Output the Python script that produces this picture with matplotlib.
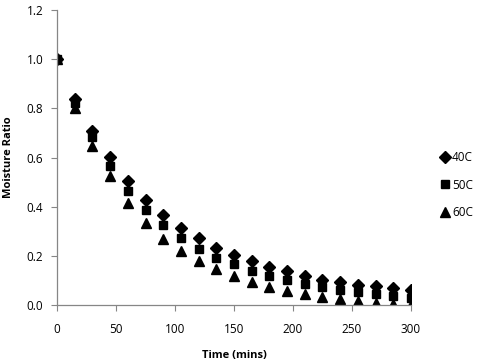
import numpy as np
import matplotlib
matplotlib.use('Agg')
import matplotlib.pyplot as plt

# drying time (mins) and moisture ratio for each temperature
time = [0, 15, 30, 45, 60, 75, 90, 105, 120, 135, 150,
        165, 180, 195, 210, 225, 240, 255, 270, 285, 300]
mr_40 = [1.0, 0.837, 0.71, 0.601, 0.503, 0.427, 0.365, 0.313, 0.272, 0.232, 0.205,
         0.177, 0.156, 0.137, 0.119, 0.103, 0.093, 0.083, 0.075, 0.067, 0.060]
mr_50 = [1.0, 0.823, 0.684, 0.567, 0.463, 0.386, 0.325, 0.274, 0.229, 0.193, 0.166,
         0.140, 0.117, 0.100, 0.086, 0.072, 0.060, 0.051, 0.043, 0.037, 0.029]
mr_60 = [1.0, 0.800, 0.646, 0.524, 0.413, 0.334, 0.270, 0.221, 0.177, 0.145, 0.117,
         0.093, 0.071, 0.055, 0.043, 0.032, 0.023, 0.015, 0.008, 0.002, 0.0]
labels = ['40C', '50C', '60C']

plt.rcParams['font.family'] = ['Open Sans', 'DejaVu Sans']

fig = plt.figure(figsize=(4.8, 3.63), dpi=100)
ax = fig.add_axes([0.119, 0.160, 0.737, 0.812])

ax.plot(time, mr_40, 'D', color='black', markersize=6, label=labels[0])
ax.plot(time, mr_50, 's', color='black', markersize=5.5, label=labels[1])
ax.plot(time, mr_60, '^', color='black', markersize=7.5, label=labels[2])

ax.set_xlim(0, 300)
ax.set_ylim(0, 1.2)
ax.set_xticks(np.arange(0, 301, 50))
ax.set_yticks(np.arange(0, 1.21, 0.2))
ax.set_yticklabels(['%.1f' % v for v in np.arange(0, 1.21, 0.2)])
ax.set_xticklabels([str(v) for v in range(0, 301, 50)])

for side in ['top', 'right']:
    ax.spines[side].set_visible(False)
for side in ['left', 'bottom']:
    ax.spines[side].set_color('#868686')
    ax.spines[side].set_linewidth(0.9)
ax.tick_params(axis='both', colors='#868686', labelcolor='black',
               labelsize=8.5, length=4, direction='out')
ax.tick_params(axis='x', pad=9)
ax.tick_params(axis='y', pad=6)

ax.set_xlabel('Time (mins)', fontsize=8, fontweight='bold', labelpad=10)
ax.set_ylabel('Moisture Ratio', fontsize=8, fontweight='bold', labelpad=9)

fig.legend(loc='center left', bbox_to_anchor=(0.905, 0.49), frameon=False,
           fontsize=8.5, handletextpad=0.1, labelspacing=1.2, handlelength=1.0,
           borderaxespad=0)

fig.savefig('out.png', dpi=100)
